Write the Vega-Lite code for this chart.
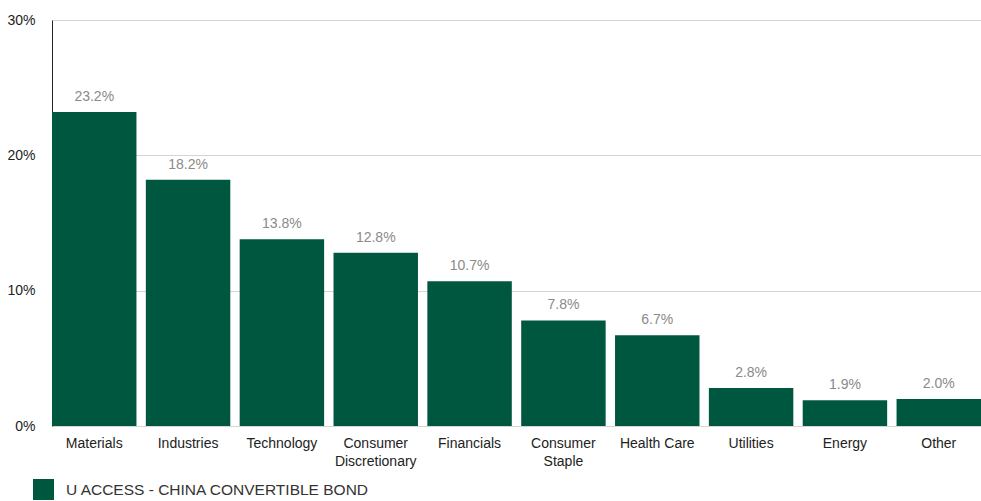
{
  "$schema": "https://vega.github.io/schema/vega-lite/v6.json",
  "autosize": "none",
  "width": 929,
  "height": 406,
  "padding": {"left": 52, "top": 20, "right": 0, "bottom": 75},
  "background": "white",
  "config": {
    "font": "Liberation Sans",
    "view": {"stroke": null}
  },
  "data": {
    "values": [
      {"sector": "Materials", "weight": 23.2, "series": "U ACCESS - CHINA CONVERTIBLE BOND"},
      {"sector": "Industries", "weight": 18.2, "series": "U ACCESS - CHINA CONVERTIBLE BOND"},
      {"sector": "Technology", "weight": 13.8, "series": "U ACCESS - CHINA CONVERTIBLE BOND"},
      {"sector": "Consumer Discretionary", "weight": 12.8, "series": "U ACCESS - CHINA CONVERTIBLE BOND"},
      {"sector": "Financials", "weight": 10.7, "series": "U ACCESS - CHINA CONVERTIBLE BOND"},
      {"sector": "Consumer Staple", "weight": 7.8, "series": "U ACCESS - CHINA CONVERTIBLE BOND"},
      {"sector": "Health Care", "weight": 6.7, "series": "U ACCESS - CHINA CONVERTIBLE BOND"},
      {"sector": "Utilities", "weight": 2.8, "series": "U ACCESS - CHINA CONVERTIBLE BOND"},
      {"sector": "Energy", "weight": 1.9, "series": "U ACCESS - CHINA CONVERTIBLE BOND"},
      {"sector": "Other", "weight": 2.0, "series": "U ACCESS - CHINA CONVERTIBLE BOND"}
    ]
  },
  "encoding": {
    "x": {
      "field": "sector",
      "type": "nominal",
      "sort": null,
      "scale": {"paddingInner": 0.1, "paddingOuter": 0},
      "axis": {
        "title": null,
        "labelAngle": 0,
        "domain": false,
        "ticks": false,
        "labelFontSize": 14,
        "labelColor": "#222222",
        "labelPadding": 10,
        "labelLineHeight": 18,
        "labelExpr": "datum.value == 'Consumer Discretionary' ? ['Consumer', 'Discretionary'] : datum.value == 'Consumer Staple' ? ['Consumer', 'Staple'] : datum.value"
      }
    },
    "y": {
      "field": "weight",
      "type": "quantitative",
      "scale": {"domain": [0, 30], "nice": false},
      "axis": {
        "title": null,
        "values": [0, 10, 20, 30],
        "labelExpr": "datum.value + '%'",
        "labelFontSize": 14,
        "labelColor": "#222222",
        "labelPadding": 17,
        "ticks": false,
        "domain": true,
        "domainColor": "#222222",
        "domainWidth": 1,
        "grid": true,
        "gridColor": "#d4d4d4",
        "gridWidth": 1
      }
    }
  },
  "layer": [
    {
      "mark": {"type": "bar", "color": "#00573f"},
      "encoding": {
        "color": {
          "field": "series",
          "type": "nominal",
          "scale": {"range": ["#00573f"]},
          "legend": {
            "title": null,
            "orient": "none",
            "legendX": -19,
            "legendY": 459,
            "symbolType": "square",
            "symbolSize": 440,
            "symbolStrokeWidth": 0,
            "labelFontSize": 15.5,
            "labelColor": "#333333",
            "labelOffset": 12,
            "labelLimit": 600
          }
        }
      }
    },
    {
      "transform": [
        {"calculate": "format(datum.weight, '.1f') + '%'", "as": "label"}
      ],
      "mark": {"type": "text", "baseline": "bottom", "dy": -8, "fontSize": 14, "color": "#8a8a8a"},
      "encoding": {
        "text": {"field": "label", "type": "nominal"},
        "color": {"value": "#8a8a8a"}
      }
    }
  ]
}
